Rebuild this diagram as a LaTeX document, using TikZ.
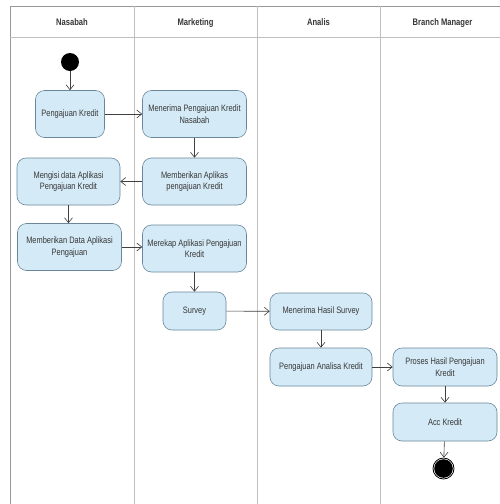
\documentclass[tikz,border=0pt]{standalone}
\usepackage{fontspec}
\setmainfont{Liberation Sans}[FakeStretch=0.8]
\usetikzlibrary{arrows.meta}
\definecolor{actfill}{RGB}{212,234,246}
\definecolor{actline}{RGB}{105,135,155}
\definecolor{txt}{RGB}{55,55,55}
\begin{document}
\begin{tikzpicture}[x=1pt,y=-1pt,
  lane/.style={draw=black!40,line width=0.8pt},
  lanehead/.style={font=\fontsize{9.5}{11}\selectfont\bfseries,text=txt,anchor=base},
  act/.style={draw=actline,line width=0.6pt,fill=actfill,
    rounded corners=9pt,align=center,inner sep=1pt,text=txt,
    font=\fontsize{9.3}{11.5}\selectfont},
  flow/.style={draw=black!75,line width=0.6pt,-{Straight Barb[length=5pt,width=8pt]}},
  startnode/.style={circle,fill=black,minimum size=18pt,inner sep=0pt},
]
\useasboundingbox (0,0) rectangle (499,504);
\fill[white] (0,0) rectangle (499,504);

% swimlane frame
\draw[lane] (10,504) -- (10,6) -- (510,6);
\draw[lane,black!25] (10,37) -- (510,37);
\foreach \xx in {134,257,380}
  \draw[lane,black!25] (\xx,6) -- (\xx,504);

\node[lanehead] (hn) at (72,25.5) {Nasabah};
\node[lanehead] (hm) at (195.5,25.5) {Marketing};
\node[lanehead] (ha) at (318.5,25.5) {Analis};
\node[lanehead] (hb) at (442.5,25.5) {Branch Manager};

% activities
\node[startnode] (start) at (70,62) {};
\node[act,minimum width=69pt,minimum height=47pt] (pk) at (70,114) {Pengajuan Kredit};
\node[act,minimum width=104pt,minimum height=47pt] (mpk) at (194.5,114) {Menerima Pengajuan Kredit\\Nasabah};
\node[act,minimum width=104pt,minimum height=47pt] (mak) at (194.5,181.5) {Memberikan Aplikas\\pengajuan Kredit};
\node[act,minimum width=103pt,minimum height=47pt] (mda) at (68.5,181.5) {Mengisi data Aplikasi\\Pengajuan Kredit};
\node[act,minimum width=104pt,minimum height=47pt] (bda) at (69.5,247) {Memberikan Data Aplikasi\\Pengajuan};
\node[act,minimum width=104pt,minimum height=47pt] (rek) at (194.5,248.5) {Merekap Aplikasi Pengajuan\\Kredit};
\node[act,minimum width=63pt,minimum height=38pt] (sur) at (194.5,311) {Survey};
\node[act,minimum width=102pt,minimum height=37pt] (mhs) at (321,311.5) {Menerima Hasil Survey};
\node[act,minimum width=102pt,minimum height=38pt] (pak) at (321,367) {Pengajuan Analisa Kredit};
\node[act,minimum width=104pt,minimum height=38pt] (phk) at (445,367) {Proses Hasil Pengajuan\\Kredit};
\node[act,minimum width=104pt,minimum height=38pt] (acc) at (445,422) {Acc Kredit};
\node[circle,draw=black,line width=0.8pt,minimum size=21pt,inner sep=0pt] (end) at (443.5,468.5) {};
\fill[black] (end.center) circle (9.3pt);

% control flows
\draw[flow] (start) -- (pk);
\draw[flow] (pk) -- (mpk);
\draw[flow] (mpk) -- (mak);
\draw[flow] (mak) -- (mda);
\draw[flow] (mda) -- (mda|-bda.north);
\draw[flow] (bda) -- (bda-|rek.west);
\draw[flow] (rek) -- (sur);
\draw[flow] (sur) -- (mhs);
\draw[flow] (mhs) -- (pak);
\draw[flow] (pak) -- (phk);
\draw[flow] (phk) -- (acc);
\draw[flow] (acc) -- (end);
\end{tikzpicture}
\end{document}
